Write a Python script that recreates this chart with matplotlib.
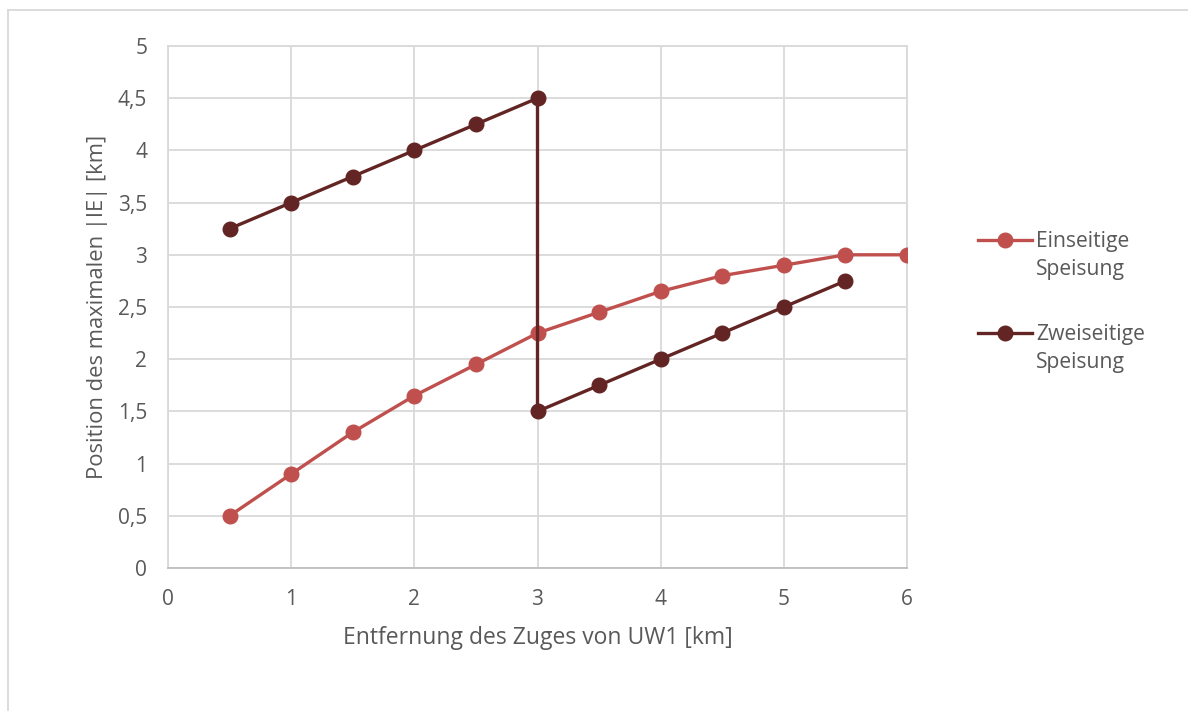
import matplotlib
matplotlib.use("Agg")
import matplotlib.pyplot as plt
from matplotlib.lines import Line2D

# Distance of the train from UW1 [km]
x_einseitig = [0.5, 1.0, 1.5, 2.0, 2.5, 3.0, 3.5, 4.0, 4.5, 5.0, 5.5, 6.0]
y_einseitig = [0.5, 0.9, 1.3, 1.65, 1.95, 2.25, 2.45, 2.65, 2.8, 2.9, 3.0, 3.0]

x_zweiseitig = [0.5, 1.0, 1.5, 2.0, 2.5, 3.0, 3.0, 3.5, 4.0, 4.5, 5.0, 5.5]
y_zweiseitig = [3.25, 3.5, 3.75, 4.0, 4.25, 4.5, 1.5, 1.75, 2.0, 2.25, 2.5, 2.75]

labels = ["Einseitige\nSpeisung", "Zweiseitige\nSpeisung"]
colors = ["#C0504D", "#632523"]

x_ticks = [0, 1, 2, 3, 4, 5, 6]
y_ticks = [0, 0.5, 1, 1.5, 2, 2.5, 3, 3.5, 4, 4.5, 5]

plt.rcParams["font.family"] = ["Open Sans", "DejaVu Sans"]
text_color = "#595959"
grid_color = "#D9D9D9"

W, H = 1188, 711
fig = plt.figure(figsize=(W / 100, H / 100), dpi=100)
ax = fig.add_axes([168 / W, 1 - 568 / H, (907 - 168) / W, (568 - 46) / H])

series = [(x_einseitig, y_einseitig), (x_zweiseitig, y_zweiseitig)]
for (xs, ys), c in zip(series, colors):
    ax.plot(xs, ys, color=c, lw=2.4, marker="o", markersize=10.5, zorder=3,
            solid_capstyle="round")

ax.set_xlim(0, 6)
ax.set_ylim(0, 5)
ax.set_xticks(x_ticks)
ax.set_yticks(y_ticks)
ax.set_xticklabels([str(v) for v in x_ticks])
ax.set_yticklabels([f"{v:g}".replace(".", ",") for v in y_ticks])
ax.grid(True, color=grid_color, lw=1.3, zorder=0)
ax.tick_params(length=0, labelsize=15, colors=text_color)
ax.tick_params(axis="x", pad=15)
ax.tick_params(axis="y", pad=15)
for name, sp in ax.spines.items():
    sp.set_color(grid_color)
    sp.set_linewidth(1.3)
ax.spines["bottom"].set_color("#BFBFBF")

ax.set_xlabel("Entfernung des Zuges von UW1 [km]", fontsize=16.5, color=text_color, labelpad=12)
ax.set_ylabel("Position des maximalen |IE| [km]", fontsize=15.8, color=text_color, labelpad=7)

# Legend, with the marker line aligned to the first text row
leg_y = [240, 333]
for lab, c, yy in zip(labels, colors, leg_y):
    yf = 1 - yy / H
    fig.add_artist(Line2D([978 / W, 1032 / W], [yf, yf], color=c, lw=2.4,
                          transform=fig.transFigure))
    fig.add_artist(Line2D([1005 / W], [yf], color=c, marker="o", markersize=10.5,
                          transform=fig.transFigure))
    fig.text(1036 / W, yf + 9 / H, lab, color=text_color, fontsize=15.2, va="top",
             ha="left", linespacing=1.45, transform=fig.transFigure)

# Outer chart frame
fig.add_artist(Line2D([8 / W, 8 / W], [0, 1 - 10 / H], color=grid_color, lw=1.3,
                      transform=fig.transFigure))
fig.add_artist(Line2D([8 / W, 1], [1 - 10 / H, 1 - 10 / H], color=grid_color, lw=1.3,
                      transform=fig.transFigure))

fig.savefig("out.png", dpi=100, facecolor="white")
